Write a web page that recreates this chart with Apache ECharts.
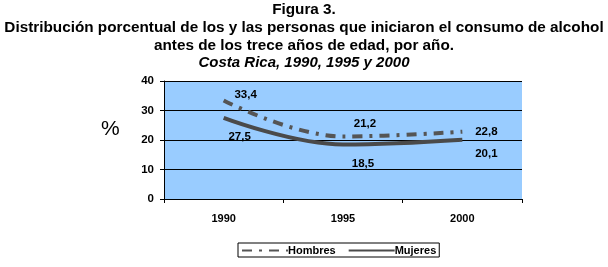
<!DOCTYPE html>
<html>
<head>
<meta charset="utf-8">
<script src="https://cdn.jsdelivr.net/npm/echarts@6/dist/echarts.min.js"></script>
<style>
  html, body { margin: 0; padding: 0; background: #fff; }
  #chart { width: 608px; height: 267px; }
</style>
</head>
<body>
<div id="chart"></div>
<script>
var years = ['1990', '1995', '2000']
var hombres = [33.4, 21.2, 22.8]
var mujeres = [27.5, 18.5, 20.1]
var yTicks = [0, 10, 20, 30, 40]

var fmt = function (v) { return String(v).replace('.', ',') }

// label offsets per point, [dx, dy]
var hombresOffsets = [[22, -6], [22, -13], [24, 0]]
var mujeresOffsets = [[16, 19], [20, 19], [24, 14]]

function withLabels(values, offsets) {
  return values.map(function (v, i) {
    return { value: v, label: { offset: offsets[i] } }
  })
}

var labelStyle = {
  show: true,
  position: 'inside',
  formatter: function (p) { return fmt(p.value) },
  fontFamily: 'Liberation Sans',
  fontWeight: 'bold',
  fontSize: 11.5,
  color: '#000'
}

var chart = echarts.init(document.getElementById('chart'))
chart.setOption({
  animation: false,
  title: [{
    text: 'Figura 3.\nDistribución porcentual de los y las personas que iniciaron el consumo de alcohol\nantes de los trece años de edad, por año.',
    left: 'center',
    top: 1,
    padding: 0,
    textStyle: {
      fontFamily: 'Liberation Sans',
      fontWeight: 'bold',
      fontSize: 15.3,
      lineHeight: 18,
      color: '#000'
    }
  }, {
    text: 'Costa Rica, 1990, 1995 y 2000',
    left: 'center',
    top: 55,
    padding: 0,
    textStyle: {
      fontFamily: 'Liberation Sans',
      fontWeight: 'bold',
      fontStyle: 'italic',
      fontSize: 15,
      color: '#000'
    }
  }, {
    text: '%',
    left: 96,
    top: 114,
    textStyle: {
      fontFamily: 'Liberation Sans',
      fontWeight: 'normal',
      fontSize: 21,
      color: '#000'
    }
  }],
  grid: {
    left: 164,
    right: 86,
    top: 81,
    bottom: 68,
    show: true,
    backgroundColor: '#99ccff',
    borderWidth: 0
  },
  legend: {
    top: 243,
    left: 238,
    itemWidth: 46,
    itemHeight: 8,
    itemGap: 12,
    padding: [2, 3, 1, 3],
    borderColor: '#000',
    borderWidth: 1,
    itemStyle: { color: 'transparent', borderWidth: 0 },
    textStyle: {
      fontFamily: 'Liberation Sans',
      fontWeight: 'bold',
      fontSize: 11,
      color: '#000',
      padding: [0, 0, 0, -5]
    },
    data: ['Hombres', 'Mujeres']
  },
  xAxis: {
    type: 'category',
    data: years,
    boundaryGap: true,
    axisLine: { lineStyle: { color: '#000', width: 1 } },
    axisTick: { show: true, length: 4, lineStyle: { color: '#000' } },
    axisLabel: {
      margin: 14,
      fontFamily: 'Liberation Sans',
      fontWeight: 'bold',
      fontSize: 11,
      color: '#000'
    }
  },
  yAxis: {
    type: 'value',
    min: yTicks[0],
    max: yTicks[yTicks.length - 1],
    interval: 10,
    axisLine: { show: true, lineStyle: { color: '#000', width: 1 } },
    axisTick: { show: true, length: 4, lineStyle: { color: '#000' } },
    splitLine: { show: true, lineStyle: { color: '#000', width: 1 } },
    axisLabel: {
      margin: 10,
      fontFamily: 'Liberation Sans',
      fontWeight: 'bold',
      fontSize: 11.5,
      color: '#000'
    }
  },
  series: [{
    name: 'Hombres',
    type: 'line',
    smooth: 0.4,
    symbol: 'circle',
    symbolSize: 0,
    showSymbol: true,
    data: withLabels(hombres, hombresOffsets),
    lineStyle: { color: '#555555', width: 4, type: [10, 7, 3, 7] },
    itemStyle: { color: '#555555' },
    label: labelStyle
  }, {
    name: 'Mujeres',
    type: 'line',
    smooth: 0.4,
    symbol: 'circle',
    symbolSize: 0,
    showSymbol: true,
    data: withLabels(mujeres, mujeresOffsets),
    lineStyle: { color: '#4a4a4a', width: 4 },
    itemStyle: { color: '#4a4a4a' },
    label: labelStyle
  }]
})
</script>
</body>
</html>
